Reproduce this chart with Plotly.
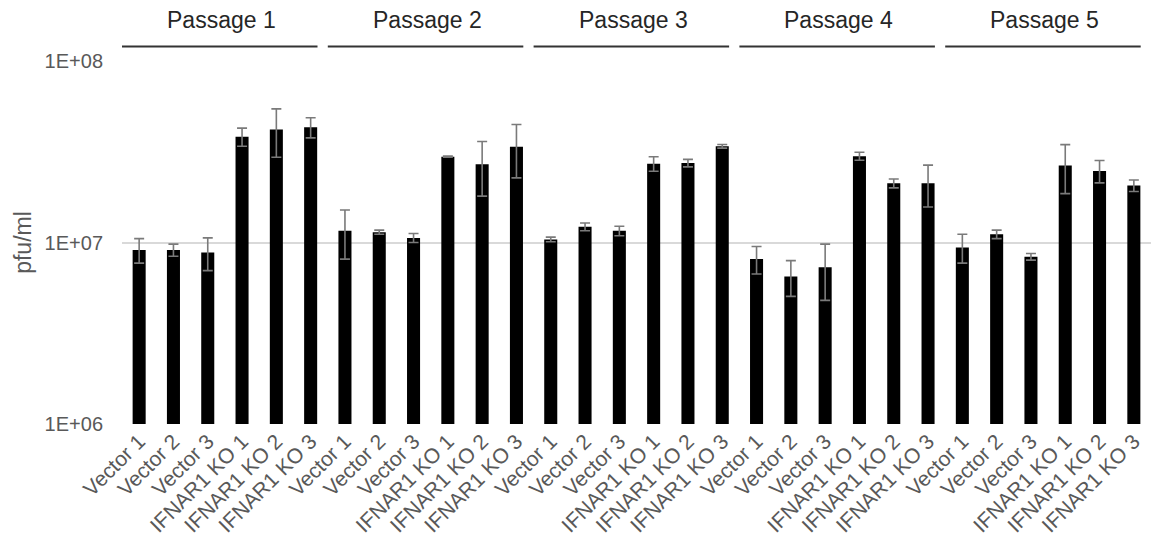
import plotly.graph_objects as go

# Plaque titers (pfu/ml) per cell line across five serial passages
passages = ["Passage 1", "Passage 2", "Passage 3", "Passage 4", "Passage 5"]
cell_lines = ["Vector 1", "Vector 2", "Vector 3", "IFNAR1 KO 1", "IFNAR1 KO 2", "IFNAR1 KO 3"]

titer_p1 = [9.1e6, 9.1e6, 8.8e6, 3.83e7, 4.2e7, 4.32e7]
titer_p2 = [1.16e7, 1.14e7, 1.06e7, 2.97e7, 2.7e7, 3.37e7]
titer_p3 = [1.04e7, 1.22e7, 1.16e7, 2.72e7, 2.74e7, 3.39e7]
titer_p4 = [8.1e6, 6.5e6, 7.3e6, 2.99e7, 2.12e7, 2.12e7]
titer_p5 = [9.4e6, 1.11e7, 8.35e6, 2.66e7, 2.48e7, 2.06e7]

err_p1 = [1.4e6, 0.7e6, 1.8e6, 4.4e6, 1.25e7, 5.5e6]
err_p2 = [3.5e6, 0.3e6, 0.6e6, 0.2e6, 9.0e6, 1.1e7]
err_p3 = [0.3e6, 0.6e6, 0.7e6, 2.5e6, 1.3e6, 0.8e6]
err_p4 = [1.4e6, 1.45e6, 2.5e6, 1.5e6, 1.2e6, 5.5e6]
err_p5 = [1.7e6, 0.6e6, 0.35e6, 8.0e6, 3.5e6, 1.5e6]

titers = titer_p1 + titer_p2 + titer_p3 + titer_p4 + titer_p5
errors = err_p1 + err_p2 + err_p3 + err_p4 + err_p5
tick_labels = cell_lines * len(passages)
positions = list(range(len(titers)))

fig = go.Figure()
fig.add_trace(go.Bar(
    x=positions,
    y=titers,
    width=0.38,
    marker=dict(color="#000000", line=dict(color="#000000", width=0)),
    error_y=dict(type="data", array=errors, visible=True,
                 color="#7a7a7a", thickness=1.6, width=5),
    showlegend=False,
))

# Passage headers with an underline spanning each group of six bars
n = len(cell_lines)
for i, name in enumerate(passages):
    start = i * n - 0.5
    end = (i + 1) * n - 0.5
    fig.add_shape(type="line", xref="x", yref="paper",
                  x0=start + 0.0, x1=end - 0.3, y0=1.04, y1=1.04,
                  line=dict(color="#333333", width=2))
    fig.add_annotation(x=(start + end) / 2 - 0.1, y=1.113, xref="x", yref="paper",
                       xanchor="center", yanchor="middle",
                       text=name, showarrow=False,
                       font=dict(size=23, color="#262626"))

fig.update_layout(
    width=1151, height=550,
    margin=dict(l=122, r=0, t=61, b=126),
    plot_bgcolor="white", paper_bgcolor="white",
    font=dict(family="Liberation Sans, Arial, sans-serif", color="#595959"),
    bargap=0.6,
)
fig.update_xaxes(
    tickmode="array", tickvals=positions, ticktext=tick_labels,
    tickangle=-45, tickfont=dict(size=21, color="#595959"),
    range=[-0.5, len(titers) - 0.5], automargin=False,
    showgrid=False, zeroline=False, showline=False, ticks="",
)
fig.update_yaxes(
    type="log", range=[6, 8], automargin=False,
    tickvals=[1e6, 1e7, 1e8], ticktext=["1E+06", "1E+07", "1E+08"],
    tickfont=dict(size=20, color="#595959"),
    showgrid=True, gridcolor="#d9d9d9", gridwidth=1.5,
    zeroline=False, showline=False, ticks="", ticklabelstandoff=18,
    title=dict(text="pfu/ml", font=dict(size=23, color="#595959"), standoff=6),
)

fig.write_html("out.html")
